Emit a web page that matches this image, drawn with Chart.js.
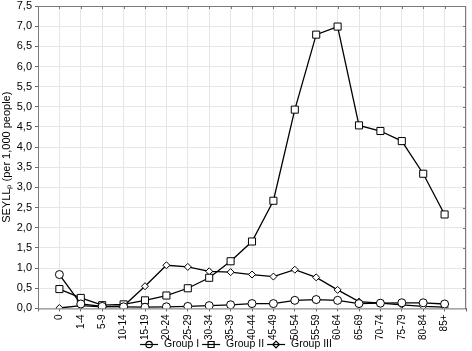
<!DOCTYPE html>
<html>
<head>
<meta charset="utf-8">
<script src="https://cdn.jsdelivr.net/npm/chart.js@4.4.1/dist/chart.umd.min.js"></script>
<style>
  html, body { margin: 0; padding: 0; background: #fff; }
</style>
</head>
<body>
<canvas id="seyllChart" width="472" height="351"></canvas>
<script>
// age groups on the x axis
const ageGroups = ['0', '1-4', '5-9', '10-14', '15-19', '20-24', '25-29', '30-34', '35-39',
  '40-44', '45-49', '50-54', '55-59', '60-64', '65-69', '70-74', '75-79', '80-84', '85+'];

// SEYLLp per 1,000 people
const groupI = [0.84, 0.11, 0.05, 0.04, 0.03, 0.04, 0.05, 0.07, 0.09, 0.12,
  0.12, 0.20, 0.22, 0.20, 0.12, 0.13, 0.14, 0.14, 0.11];
const groupII = [0.48, 0.26, 0.08, 0.10, 0.20, 0.32, 0.50, 0.76, 1.17, 1.66,
  2.67, 4.93, 6.79, 6.99, 4.54, 4.40, 4.15, 3.34, 2.33];
const groupIII = [0.01, 0.07, 0.04, 0.06, 0.55, 1.07, 1.03, 0.92, 0.90, 0.84,
  0.79, 0.96, 0.77, 0.46, 0.17, 0.13, 0.09, 0.05, 0.03];

const yMin = 0, yMax = 7.5, yStep = 0.5;

const toPoints = arr => arr.map((v, i) => ({ x: i, y: v }));

// marker shape used in the legend, one per dataset
function drawMarker(g, kind, cx, cy) {
  g.beginPath();
  if (kind === 'circle') g.arc(cx, cy, 3.2, 0, Math.PI * 2);
  else if (kind === 'rect') g.rect(cx - 3, cy - 3, 6, 6);
  else { g.moveTo(cx, cy - 3.3); g.lineTo(cx + 3.3, cy); g.lineTo(cx, cy + 3.3); g.lineTo(cx - 3.3, cy); g.closePath(); }
  g.fill(); g.stroke();
  g.beginPath(); g.moveTo(cx - 3, cy); g.lineTo(cx + 3, cy); g.stroke();
}

// frame, inward ticks on top/right, and the "line + marker" legend below
const framePlugin = {
  id: 'frame',
  afterDraw(chart) {
    const { ctx, chartArea: a, scales: { x, y } } = chart;
    ctx.save();
    ctx.strokeStyle = '#7a7a7a';
    ctx.lineWidth = 1;
    ctx.strokeRect(a.left + 0.5, a.top + 0.5, a.right - a.left - 1, a.bottom - a.top);
    ctx.beginPath();
    ageGroups.forEach((_, i) => {
      const px = Math.round(x.getPixelForValue(i)) + 0.5;
      ctx.moveTo(px, a.top); ctx.lineTo(px, a.top + 3);
    });
    for (let v = yMin + yStep; v < yMax; v += yStep) {
      const py = Math.round(y.getPixelForValue(v)) + 0.5;
      ctx.moveTo(a.right, py); ctx.lineTo(a.right - 3, py);
    }
    ctx.stroke();

    // legend
    const iconW = 18, textGap = 6, itemGap = 3, ly = 344.5;
    ctx.font = '10.5px "Liberation Sans"';
    ctx.textBaseline = 'middle';
    ctx.textAlign = 'left';
    const items = chart.data.datasets.map(ds => ({ ds, w: ctx.measureText(ds.label).width }));
    const total = items.reduce((s, it) => s + iconW + textGap + it.w, 0) + itemGap * (items.length - 1);
    let cx = chart.width / 2 - total / 2;
    items.forEach(({ ds, w }) => {
      ctx.strokeStyle = '#000';
      ctx.fillStyle = '#fff';
      ctx.lineWidth = 1.2;
      ctx.beginPath(); ctx.moveTo(cx, ly); ctx.lineTo(cx + iconW, ly); ctx.stroke();
      drawMarker(ctx, ds.pointStyle, cx + iconW / 2, ly);
      ctx.fillStyle = '#000';
      ctx.fillText(ds.label, cx + iconW + textGap, ly);
      cx += iconW + textGap + w + itemGap;
    });
    ctx.restore();
  }
};

const baseLine = {
  borderColor: '#000',
  borderWidth: 1.3,
  pointBorderColor: '#000',
  pointBorderWidth: 1,
  pointBackgroundColor: '#fff',
  tension: 0
};

const ctx = document.getElementById('seyllChart').getContext('2d');
new Chart(ctx, {
  type: 'line',
  data: {
    datasets: [
      Object.assign({ label: 'Group I', data: toPoints(groupI), pointStyle: 'circle', pointRadius: 4 }, baseLine),
      Object.assign({ label: 'Group II', data: toPoints(groupII), pointStyle: 'rect', pointRadius: 5 }, baseLine),
      Object.assign({ label: 'Group III', data: toPoints(groupIII), pointStyle: 'rectRot', pointRadius: 3.5 }, baseLine)
    ]
  },
  options: {
    responsive: false,
    animation: false,
    layout: { padding: { top: 0, right: 2, left: 0, bottom: 8 } },
    scales: {
      x: {
        type: 'linear',
        min: -1,
        max: ageGroups.length,
        afterBuildTicks: scale => {
          scale.ticks = [];
          for (let i = -1; i <= ageGroups.length; i++) scale.ticks.push({ value: i });
        },
        afterFit: scale => { scale.paddingLeft = 0; scale.paddingRight = 0; },
        grid: { color: '#e6e6e6', tickLength: 3, tickColor: '#666' },
        border: { display: false },
        ticks: {
          autoSkip: false,
          minRotation: 90,
          maxRotation: 90,
          padding: 3,
          color: '#000',
          font: { family: 'Liberation Sans', size: 10 },
          callback: v => ageGroups[v] || ''
        }
      },
      y: {
        min: yMin,
        max: yMax,
        afterFit: scale => { scale.width = 38; scale.paddingTop = 5; },
        grid: { color: '#e6e6e6', tickLength: 3, tickColor: '#666' },
        border: { display: false },
        ticks: {
          stepSize: yStep,
          padding: 3,
          color: '#000',
          font: { family: 'Liberation Sans', size: 11 },
          callback: v => v.toFixed(1).replace('.', ',')
        },
        title: {
          display: true,
          text: 'SEYLLₚ (per 1,000 people)',
          color: '#000',
          padding: 0,
          font: { family: 'Liberation Sans', size: 11 }
        }
      }
    },
    plugins: {
      legend: { display: false },
      tooltip: { enabled: false }
    }
  },
  plugins: [framePlugin]
});
</script>
</body>
</html>
